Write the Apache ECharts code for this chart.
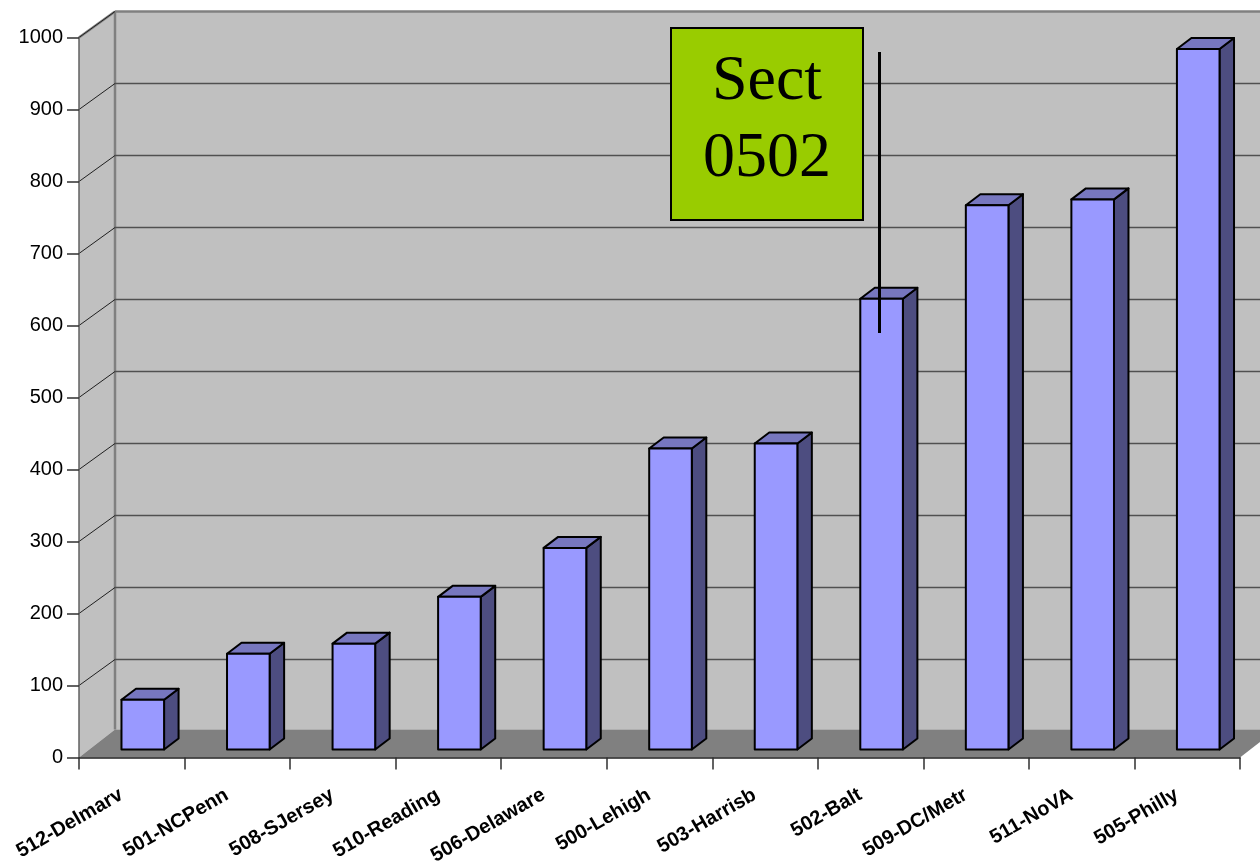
<!DOCTYPE html>
<html><head><meta charset="utf-8">
<style>html,body{margin:0;padding:0;background:#fff}#c{width:1260px;height:868px}</style>
<script src="https://cdn.jsdelivr.net/npm/echarts@6/dist/echarts.min.js"></script>
</head><body><div id="c"></div>
<script>
var categories = ['512-Delmarv','501-NCPenn','508-SJersey','510-Reading','506-Delaware','500-Lehigh','503-Harrisb','502-Balt','509-DC/Metr','511-NoVA','505-Philly'];
var values = [69,133,147,212,280,418,425,626,756,764,973];
var gridValues = [100,200,300,400,500,600,700,800,900,1000];
var DX = 36, DY = -26, DY_FLOOR = -28;
var BAR_OFF_X = 11, BAR_OFF_Y = -8, BAR_HALF = 21.3, BAR_DX = 14.5, BAR_DY = -11;

var chart = echarts.init(document.getElementById('c'), null, {renderer:'canvas'});

function poly(pts, fill, stroke, lw){
  return {type:'polygon', shape:{points:pts}, style:{fill:fill, stroke:stroke||null, lineWidth:lw||0, lineJoin:'round'}};
}
function line(a,b,color,lw){
  return {type:'line', shape:{x1:a[0],y1:a[1],x2:b[0],y2:b[1]}, style:{stroke:color, lineWidth:lw}};
}
function renderWalls(params){
  var s = params.coordSys;
  var l = s.x, r = s.x+s.width, t = s.y, b = s.y+s.height;
  return {type:'group', children:[
    poly([[l,t],[l+DX,t+DY],[l+DX,b+DY_FLOOR],[l,b]], '#c0c0c0'),
    poly([[l+DX,t+DY],[r+DX,t+DY],[r+DX,b+DY_FLOOR],[l+DX,b+DY_FLOOR]], '#c0c0c0'),
    poly([[l,b],[l+DX,b+DY_FLOOR],[r+DX,b+DY_FLOOR],[r,b]], '#808080'),
    line([l,t],[l+DX,t+DY],'#808080',2.5),
    line([l+DX,t+DY],[r+DX,t+DY],'#808080',2.5),
    line([l+DX,t+DY],[l+DX,b+DY_FLOOR],'#808080',2.5)
  ]};
}
function renderGrid(params, api){
  var s = params.coordSys;
  var y = api.coord([0, api.value(0)])[1];
  var l = s.x, r = s.x+s.width;
  var kids = [line([l,y],[l+DX,y+DY],'#202020',1)];
  if (api.value(0) < 1000) kids.push(line([l+DX,y+DY],[r+DX,y+DY],'#505050',1.5));
  return {type:'group', children:kids};
}
function renderBar(params, api){
  var top = api.coord([api.value(0), api.value(1)]);
  var base = api.coord([api.value(0), 0]);
  var x0 = top[0]+BAR_OFF_X-BAR_HALF, x1 = top[0]+BAR_OFF_X+BAR_HALF;
  var yt = top[1]+BAR_OFF_Y, yb = base[1]+BAR_OFF_Y;
  var K='#000';
  return {type:'group', children:[
    poly([[x1,yt],[x1+BAR_DX,yt+BAR_DY],[x1+BAR_DX,yb+BAR_DY],[x1,yb]], '#4d4d80', K, 2),
    poly([[x0,yt],[x0+BAR_DX,yt+BAR_DY],[x1+BAR_DX,yt+BAR_DY],[x1,yt]], '#7777bf', K, 2),
    poly([[x0,yt],[x1,yt],[x1,yb],[x0,yb]], '#9999ff', K, 2)
  ]};
}

chart.setOption({
  animation:false,
  backgroundColor:'#fff',
  grid:{left:79, right:20, top:37.5, bottom:110.5, containLabel:false},
  xAxis:{type:'category', data:categories, boundaryGap:true, z:5,
    axisLine:{show:true, onZero:false, lineStyle:{color:'#202020', width:1.5}},
    axisTick:{show:true, length:12, alignWithLabel:false, lineStyle:{color:'#303030', width:1.5}},
    axisLabel:{show:true, interval:0, rotate:30, margin:30, color:'#000', padding:[0,12,0,0],
      fontFamily:'"Liberation Sans",Arial,sans-serif', fontWeight:'bold', fontSize:20}
  },
  yAxis:{type:'value', min:0, max:1000, interval:100, z:5,
    axisLine:{show:true, onZero:false, lineStyle:{color:'#606060', width:1.5}},
    axisTick:{show:true, length:12, lineStyle:{color:'#303030', width:1.5}},
    splitLine:{show:false},
    axisLabel:{show:true, margin:16, color:'#000', formatter:function(v){return String(v);},
      fontFamily:'"Liberation Sans",Arial,sans-serif', fontSize:20}
  },
  series:[
    {type:'custom', name:'walls', z:1, clip:false, silent:true, data:[[0]], renderItem:renderWalls},
    {type:'custom', name:'grid', z:2, clip:false, silent:true, encode:{y:0}, data:gridValues.map(function(v){return [v];}), renderItem:renderGrid},
    {type:'custom', name:'bars', z:3, clip:false, silent:true, encode:{x:0,y:1},
      data:values.map(function(v,i){return [i,v];}), renderItem:renderBar}
  ],
  graphic:[
    {type:'rect', z:20, shape:{x:671,y:28,width:192,height:192}, style:{fill:'#99cc00', stroke:'#000', lineWidth:2}},
    {type:'text', z:21, style:{x:767,y:50.5,text:'Sect',fill:'#000',font:'64px "Liberation Serif","Times New Roman",serif',textAlign:'center',textVerticalAlign:'top'}},
    {type:'text', z:21, style:{x:767,y:127.5,text:'0502',fill:'#000',font:'64px "Liberation Serif","Times New Roman",serif',textAlign:'center',textVerticalAlign:'top'}},
    {type:'line', z:22, shape:{x1:879.5,y1:52,x2:879.5,y2:333}, style:{stroke:'#000',lineWidth:3}}
  ]
});
</script></body></html>
